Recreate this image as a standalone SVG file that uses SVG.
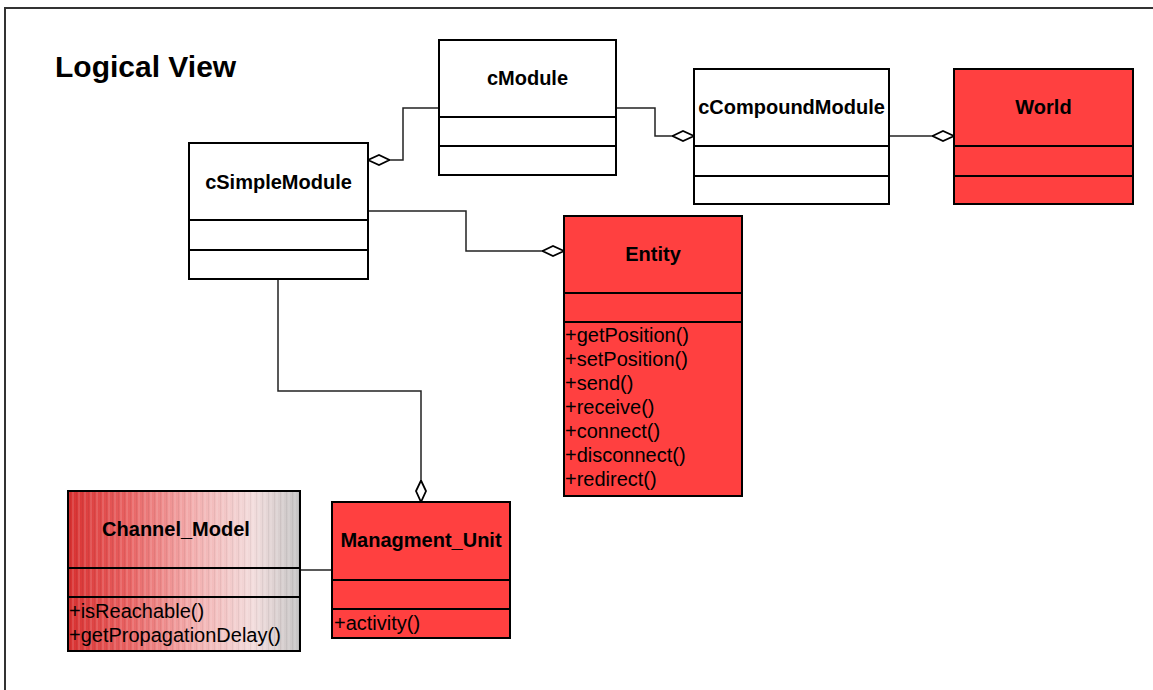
<svg xmlns="http://www.w3.org/2000/svg" width="1153" height="690" viewBox="0 0 1153 690">
  <defs>
    <style>
      .frame { fill: #ffffff; stroke: #333333; stroke-width: 2; }
      .box { stroke: #000000; stroke-width: 2; }
      .white { fill: #ffffff; }
      .red { fill: #ff4040; }
      .div { stroke: #000000; stroke-width: 2; }
      .name { font-family: "Liberation Sans", Arial, sans-serif; font-weight: bold; font-size: 20px; fill: #000000; text-anchor: middle; }
      .op { font-family: "Liberation Sans", Arial, sans-serif; font-size: 20px; fill: #000000; }
      .title { font-family: "Liberation Sans", Arial, sans-serif; font-weight: bold; font-size: 30px; fill: #000000; }
      .conn { fill: none; stroke: #222222; stroke-width: 1.5; }
    </style>
    <marker id="diamond" viewBox="0 -6 23 12" refX="22" refY="0" markerWidth="23" markerHeight="12" markerUnits="userSpaceOnUse" orient="auto">
      <path d="M0.5,0 L11,-5 L22,0 L11,5 Z" fill="#ffffff" stroke="#000000" stroke-width="1.8"/>
    </marker>
    <linearGradient id="chanGrad" x1="0" y1="0" x2="1" y2="0">
      <stop offset="0" stop-color="#d83030"/>
      <stop offset="0.25" stop-color="#e86060"/>
      <stop offset="0.55" stop-color="#f3b0b0"/>
      <stop offset="0.8" stop-color="#f2dcdc"/>
      <stop offset="1" stop-color="#c4c4c4"/>
    </linearGradient>
    <pattern id="stripes" width="6" height="10" patternUnits="userSpaceOnUse">
      <rect x="0" y="0" width="2" height="10" fill="#ffffff" fill-opacity="0.12"/>
      <rect x="4" y="0" width="1" height="10" fill="#000000" fill-opacity="0.05"/>
    </pattern>
  </defs>

  <rect class="frame" x="5" y="8" width="1160" height="700"/>
  <text class="title" x="55" y="77">Logical View</text>

  <g id="connectors">
    <path class="conn" d="M439,108 H403 V160 H368" marker-end="url(#diamond)"/>
    <path class="conn" d="M368,211 H466 V251 H564" marker-end="url(#diamond)"/>
    <path class="conn" d="M616,108 H655 V136 H694" marker-end="url(#diamond)"/>
    <path class="conn" d="M889,136 H954" marker-end="url(#diamond)"/>
    <path class="conn" d="M278,279 V391 H421 V502" marker-end="url(#diamond)"/>
    <path class="conn" d="M300,570 H332"/>
  </g>

  <g id="cModule">
    <rect class="box white" x="439" y="40" width="177" height="135"/>
    <line class="div" x1="439" y1="117" x2="616" y2="117"/>
    <line class="div" x1="439" y1="146" x2="616" y2="146"/>
    <text class="name" x="527.5" y="85">cModule</text>
  </g>

  <g id="cSimpleModule">
    <rect class="box white" x="189" y="143" width="179" height="136"/>
    <line class="div" x1="189" y1="220" x2="368" y2="220"/>
    <line class="div" x1="189" y1="250" x2="368" y2="250"/>
    <text class="name" x="278.5" y="188.5">cSimpleModule</text>
  </g>

  <g id="cCompoundModule">
    <rect class="box white" x="694" y="69" width="195" height="135"/>
    <line class="div" x1="694" y1="146" x2="889" y2="146"/>
    <line class="div" x1="694" y1="176" x2="889" y2="176"/>
    <text class="name" x="791.5" y="114">cCompoundModule</text>
  </g>

  <g id="World">
    <rect class="box red" x="954" y="69" width="179" height="135"/>
    <line class="div" x1="954" y1="146" x2="1133" y2="146"/>
    <line class="div" x1="954" y1="176" x2="1133" y2="176"/>
    <text class="name" x="1043.5" y="114">World</text>
  </g>

  <g id="Entity">
    <rect class="box red" x="564" y="216" width="178" height="280"/>
    <line class="div" x1="564" y1="293" x2="742" y2="293"/>
    <line class="div" x1="564" y1="322" x2="742" y2="322"/>
    <text class="name" x="653" y="261">Entity</text>
    <text class="op" x="565" y="342">+getPosition()</text>
    <text class="op" x="565" y="366">+setPosition()</text>
    <text class="op" x="565" y="390">+send()</text>
    <text class="op" x="565" y="414">+receive()</text>
    <text class="op" x="565" y="438">+connect()</text>
    <text class="op" x="565" y="462">+disconnect()</text>
    <text class="op" x="565" y="486">+redirect()</text>
  </g>

  <g id="Channel_Model">
    <rect x="68" y="491" width="232" height="160" fill="url(#chanGrad)"/>
    <rect x="68" y="491" width="232" height="160" fill="url(#stripes)"/>
    <rect class="box" x="68" y="491" width="232" height="160" fill="none"/>
    <line class="div" x1="68" y1="568" x2="300" y2="568"/>
    <line class="div" x1="68" y1="597" x2="300" y2="597"/>
    <text class="name" x="176" y="535.5">Channel_Model</text>
    <text class="op" x="69" y="618">+isReachable()</text>
    <text class="op" x="69" y="642">+getPropagationDelay()</text>
  </g>

  <g id="Managment_Unit">
    <rect class="box red" x="332" y="502" width="178" height="136"/>
    <line class="div" x1="332" y1="580" x2="510" y2="580"/>
    <line class="div" x1="332" y1="609" x2="510" y2="609"/>
    <text class="name" x="421" y="547">Managment_Unit</text>
    <text class="op" x="334" y="630">+activity()</text>
  </g>
</svg>
